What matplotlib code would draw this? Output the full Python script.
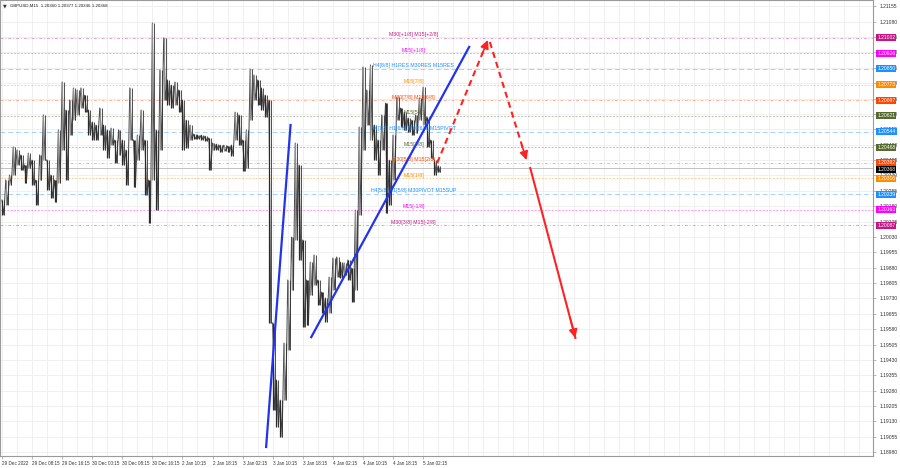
import matplotlib
matplotlib.use("Agg")
import matplotlib.pyplot as plt
import numpy as np

plt.rcParams['font.family'] = ['Liberation Sans', 'DejaVu Sans']

title = "GBPUSD,M15  1.20360 1.20377 1.20346 1.20368"
time_labels = ["29 Dec 2022", "29 Dec 08:15", "29 Dec 16:15", "30 Dec 00:15", "30 Dec 08:15",
               "30 Dec 16:15", "2 Jan 10:15", "2 Jan 18:15", "3 Jan 02:15", "3 Jan 10:15",
               "3 Jan 18:15", "4 Jan 02:15", "4 Jan 10:15", "4 Jan 18:15", "5 Jan 02:15"]
bars_per_label = 32
bar_step = 4  # one sample every 4 M15 bars

hi = [1.20210, 1.20308, 1.20332, 1.20469, 1.20454, 1.20430, 1.20381, 1.20439, 1.20405, 1.20308,
      1.20430, 1.20625, 1.20405, 1.20332, 1.20308, 1.20552, 1.20786, 1.20649, 1.20698, 1.20757,
      1.20747, 1.20757, 1.20722, 1.20649, 1.20591, 1.20576, 1.20659, 1.20576, 1.20552, 1.20561,
      1.20503, 1.20552, 1.20503, 1.20454, 1.20757, 1.20503, 1.20527, 1.20649, 1.20503, 1.20308,
      1.21074, 1.20552, 1.20844, 1.21001, 1.20796, 1.20771, 1.20786, 1.20747, 1.20698, 1.20600,
      1.20576, 1.20532, 1.20527, 1.20527, 1.20522, 1.20513, 1.20488, 1.20483, 1.20478, 1.20478,
      1.20473, 1.20478, 1.20639, 1.20625, 1.20503, 1.20552, 1.20849, 1.20820, 1.20796, 1.20757,
      1.20722, 1.20698, 1.19610, 1.19332, 1.19234, 1.19512, 1.19820, 1.20029, 1.20488, 1.20381,
      1.20015, 1.19820, 1.19907, 1.19942, 1.19820, 1.19761, 1.19732, 1.19834, 1.19927, 1.19932,
      1.19907, 1.19903, 1.19917, 1.19878, 1.20161, 1.20566, 1.20859, 1.20747, 1.20869, 1.20576,
      1.20503, 1.20625, 1.20683, 1.20405, 1.20527, 1.20713, 1.20659, 1.20639, 1.20610, 1.20600,
      1.20625, 1.20708, 1.20761, 1.20615, 1.20503, 1.20405, 1.20377]
lo = [1.20137, 1.20186, 1.20283, 1.20332, 1.20381, 1.20356, 1.20293, 1.20366, 1.20283, 1.20186,
      1.20308, 1.20405, 1.20259, 1.20220, 1.20200, 1.20293, 1.20454, 1.20308, 1.20527, 1.20600,
      1.20625, 1.20659, 1.20639, 1.20527, 1.20503, 1.20503, 1.20527, 1.20454, 1.20415, 1.20478,
      1.20391, 1.20430, 1.20381, 1.20283, 1.20503, 1.20273, 1.20405, 1.20454, 1.20234, 1.20098,
      1.20308, 1.20161, 1.20454, 1.20698, 1.20674, 1.20659, 1.20674, 1.20639, 1.20454, 1.20464,
      1.20503, 1.20508, 1.20508, 1.20503, 1.20498, 1.20356, 1.20454, 1.20454, 1.20444, 1.20449,
      1.20444, 1.20425, 1.20503, 1.20478, 1.20351, 1.20366, 1.20600, 1.20698, 1.20674, 1.20649,
      1.20615, 1.19610, 1.19185, 1.19102, 1.19053, 1.19234, 1.19478, 1.19771, 1.20015, 1.19917,
      1.19590, 1.19600, 1.19746, 1.19795, 1.19698, 1.19659, 1.19615, 1.19659, 1.19771, 1.19834,
      1.19829, 1.19844, 1.19820, 1.19712, 1.19771, 1.20137, 1.20454, 1.20576, 1.20503, 1.20405,
      1.20332, 1.20454, 1.20147, 1.20186, 1.20308, 1.20600, 1.20566, 1.20552, 1.20542, 1.20527,
      1.20537, 1.20600, 1.20576, 1.20469, 1.20415, 1.20332, 1.20346]
last_price = 1.20368

level_prices = [1.21002, 1.20926, 1.20850, 1.20773, 1.20697, 1.20621, 1.20544,
                1.20468, 1.20392, 1.20316, 1.20239, 1.20163, 1.20087]
level_names = ["M30[+1/8] M15[+2/8]", "M15[+1/8]", "H4[8/8] H1RES M30RES M15RES", "M15[7/8]",
               "M30[7/8] M15[6/8]", "M15[5/8]", "H4[7/8] H1[6/8] M30[6/8] M15PIVOT", "M15[3/8]",
               "M30[5/8] M15[2/8]", "M15[1/8]", "H4[5/8] H1[5/8] M30PIVOT M15SUP", "M15[-1/8]",
               "M30[3/8] M15[-2/8]"]
level_colors = ["#C71585", "#FF00FF", "#1E90FF", "#FF8C00", "#FF4500", "#556B2F", "#1E90FF",
                "#556B2F", "#FF4500", "#FF8C00", "#1E90FF", "#FF00FF", "#C71585"]

# drawn objects: (bar index, price)
blue_lines = [[(281, 1.19005), (307, 1.20576)],
              [(329, 1.19541), (497, 1.20957)]]
red_arrows = [[(463, 1.20391), (517, 1.20991), "dashed"],
              [(519, 1.20981), (558, 1.20405), "dashed"],
              [(562, 1.20366), (610, 1.19537), "solid"]]

price_ticks = np.round(1.21155 - 0.00075 * np.arange(30), 5)

fig = plt.figure(figsize=(9, 4.68), dpi=100)
ax = fig.add_axes([0, 12 / 468, 873 / 900, 456 / 468])
ax.set_xlim(-2.1, 926.6)
ax.set_ylim(1.18961, 1.21186)

# grid
for gx in range(0, 927, 16):
    ax.axvline(gx, color="#EEEEEE", lw=0.6, zorder=0)
for gy in price_ticks:
    ax.axhline(gy, color="#EEEEEE", lw=0.6, zorder=0)

# levels
level_styles = {"M30": (0, (3, 2, 1, 2)), "H4": (0, (5, 3)), "M15": (0, (2, 1.5))}
for p, name, c in zip(level_prices, level_names, level_colors):
    key = name.split("[")[0]
    ax.axhline(p, color=c, lw=0.7, alpha=0.4, ls=level_styles.get(key, "-"), zorder=1)
    ax.text(438, p + 0.00003, name, color=c, fontsize=3.8, ha="center", va="bottom", zorder=3)

# price bars
xs = np.arange(len(hi)) * bar_step
mid = (np.array(hi) + np.array(lo)) / 2
cols = ["#2a2a2a" if i == 0 or mid[i] < mid[i - 1] else "#909090" for i in range(len(hi))]
zx = np.repeat(xs, 2) + np.tile([0, 2], len(xs))
zy = np.ravel(np.column_stack([hi, lo]))
ax.plot(zx, zy, color="#444444", lw=0.7, zorder=2)
ax.vlines(xs, lo, hi, colors=cols, lw=0.9, zorder=2)
ax.vlines(xs + 2, lo, hi, colors="#333333", lw=0.6, zorder=2)

# trend lines
for (a, b) in blue_lines:
    ax.plot([a[0], b[0]], [a[1], b[1]], color="#2233EE", lw=1.6, zorder=4)
for a, b, style in red_arrows:
    ax.plot([a[0], b[0]], [a[1], b[1]], color="#FF2222", lw=1.5,
            ls=(0, (3, 2)) if style == "dashed" else "-", zorder=4)
    back = (a[0] + 0.88 * (b[0] - a[0]), a[1] + 0.88 * (b[1] - a[1]))
    ax.annotate("", xy=b, xytext=back,
                arrowprops=dict(arrowstyle="-|>,head_length=0.5,head_width=0.25",
                                color="#FF2222", lw=1.2, shrinkA=0, shrinkB=0), zorder=5)

# axes styling
for s in ["left", "right", "bottom", "top"]:
    ax.spines[s].set_color("#9a9a9a")
    ax.spines[s].set_linewidth(0.8)
ax.yaxis.tick_right()
ax.set_yticks(price_ticks)
ax.set_yticklabels(["%.5f" % t for t in price_ticks])
ax.tick_params(axis="y", labelsize=3.6, length=2, width=0.5, pad=3, colors="#9a9a9a", labelcolor="#333333")
ax.set_xticks(np.arange(len(time_labels)) * bars_per_label)
ax.set_xticklabels(time_labels, ha="left")
ax.tick_params(axis="x", labelsize=3.3, length=2, width=0.5, pad=1.5, colors="#9a9a9a", labelcolor="#333333")

# level price boxes on the scale (drawn over the plain scale labels, as in the terminal)
for p, c in zip(level_prices, level_colors):
    ax.text(1.005, p, "%.5f" % p, transform=ax.get_yaxis_transform(), color="white", fontsize=3.6,
            ha="left", va="center", clip_on=False, zorder=10,
            bbox=dict(boxstyle="square,pad=0.2", fc=c, ec="none"))
ax.text(1.005, last_price - 0.00010, "%.5f" % last_price, transform=ax.get_yaxis_transform(),
        color="white", fontsize=3.6, ha="left", va="center", clip_on=False, zorder=11,
        bbox=dict(boxstyle="square,pad=0.2", fc="black", ec="none"))
ax.axhline(last_price, color="#aaaaaa", lw=0.5, zorder=1)

fig.text(3 / 900, 1 - 6 / 468, "▼", fontsize=3.5, va="center", color="#333333",
         family=["DejaVu Sans"])
fig.text(10 / 900, 1 - 6 / 468, title, fontsize=3.2, va="center", color="#222222")

fig.savefig("out.png", dpi=100)
